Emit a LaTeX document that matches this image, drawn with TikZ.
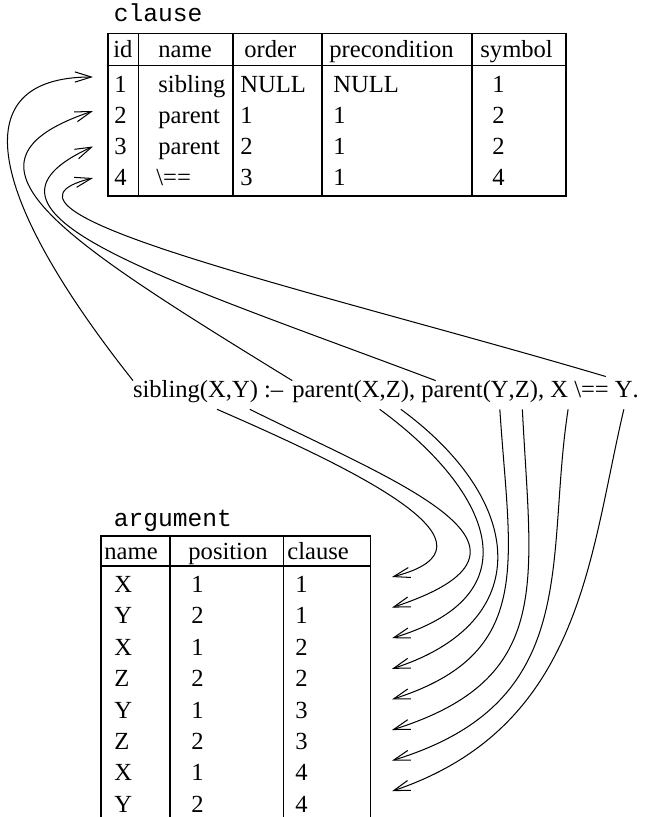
\documentclass[tikz,border=0pt]{standalone}
\usepackage{fontspec}
\setmainfont{Liberation Serif}
\setmonofont{Liberation Mono}
\usetikzlibrary{arrows.meta,positioning}

\begin{document}
\begin{tikzpicture}[x=0.488pt,y=-0.488pt,
  font=\fontsize{12}{14.4}\selectfont,
  tbl/.style={line width=0.6pt},
  cell/.style={anchor=base west,inner sep=0pt},
  lbl/.style={anchor=base west,inner sep=0pt,font=\fontsize{12}{14.4}\selectfont\ttfamily},
  word/.style={inner sep=0pt,outer sep=0pt,text height=0.8em,text depth=0.6em},
  arr/.style={line width=0.5pt,-{Straight Barb[length=8pt,width=5pt]}}]
\useasboundingbox (0,0) rectangle (646,817);
\node[lbl] (tclause) at (113.5,21.7) {clause};
\draw[tbl] (108,33.5) rectangle (566,196);
\draw[tbl] (108,65.5) -- (566,65.5);
\draw[tbl] (138.5,33.5) -- (138.5,196);
\draw[tbl] (233,33.5) -- (233,196);
\draw[tbl] (322,33.5) -- (322,196);
\draw[tbl] (472,33.5) -- (472,196);
\node[cell] (hid) at (113,57.5) {id};
\node[cell] (hname) at (158,57.5) {name};
\node[cell] (hord) at (244,57.5) {order};
\node[cell] (hpre) at (329,57.5) {precondition};
\node[cell] (hsym) at (480,57.5) {symbol};
\node[cell] (id1) at (114,93) {1};
\node[cell] (nm1) at (158,93) {sibling};
\node[cell] (od1) at (240,93) {NULL};
\node[cell] (pc1) at (333,93) {NULL};
\node[cell] (sy1) at (492,93) {1};
\node[cell] (id2) at (114,123.8) {2};
\node[cell] (nm2) at (158,123.8) {parent};
\node[cell] (od2) at (240,123.8) {1};
\node[cell] (pc2) at (333,123.8) {1};
\node[cell] (sy2) at (492,123.8) {2};
\node[cell] (id3) at (114,154.6) {3};
\node[cell] (nm3) at (158,154.6) {parent};
\node[cell] (od3) at (240,154.6) {2};
\node[cell] (pc3) at (333,154.6) {1};
\node[cell] (sy3) at (492,154.6) {2};
\node[cell] (id4) at (114,185.4) {4};
\node[cell] (nm4) at (156,185.4) {\textbackslash==};
\node[cell] (od4) at (240,185.4) {3};
\node[cell] (pc4) at (333,185.4) {1};
\node[cell] (sy4) at (492,185.4) {4};
\coordinate (q1) at (93,77);
\coordinate (q2) at (93,111);
\coordinate (q3) at (93,146.5);
\coordinate (q4) at (93,178);
\node[word,anchor=base west] (sib) at (133,397) {sibling(};
\node[word,base right=0pt of sib] (sx) {X};
\node[word,base right=0pt of sx] (k1) {,};
\node[word,base right=0pt of k1] (sy) {Y};
\node[word,base right=0pt of sy] (neck) {)~:\textendash};
\node[word,base right=4.4pt of neck] (par1) {parent(};
\node[word,base right=0pt of par1] (px1) {X};
\node[word,base right=0pt of px1] (k2) {,};
\node[word,base right=0pt of k2] (pz1) {Z};
\node[word,base right=0pt of pz1] (sep1) {),~\mbox{}};
\node[word,base right=0pt of sep1] (par2) {parent(};
\node[word,base right=0pt of par2] (py2) {Y};
\node[word,base right=0pt of py2] (k3) {,};
\node[word,base right=0pt of k3] (pz2) {Z};
\node[word,base right=0pt of pz2] (sep2) {),~\mbox{}};
\node[word,base right=0pt of sep2] (nx) {X};
\node[word,base right=0pt of nx] (neq) {~\textbackslash==~\mbox{}};
\node[word,base right=0pt of neq] (ny) {Y};
\node[word,base right=0pt of ny] (stop) {.};
\draw[arr] (sib.north west) .. controls (-10,200) and (-40,77) .. (q1);
\draw[arr] (par1.north west) .. controls (57,236) and (-59,162) .. (q2);
\draw[arr] ([xshift=7pt]par2.north west) .. controls (158,276) and (-52.6,212.6) .. (q3);
\draw[arr] ([xshift=-4.5pt,yshift=2pt]neq.north east) .. controls (321,292) and (-42.8,211.6) .. (q4);
\node[lbl] (targ) at (113.5,526.7) {argument};
\draw[tbl] (101,817) -- (101,536) -- (370.7,536) -- (370.7,817);
\draw[tbl] (101,566) -- (370.7,566);
\draw[tbl] (170,536) -- (170,817);
\draw[tbl] (283.3,536) -- (283.3,817);
\node[cell] (hanm) at (104,559.5) {name};
\node[cell] (hapos) at (188,559.5) {position};
\node[cell] (hacl) at (287,559.5) {clause};
\node[cell] (an1) at (114,592.5) {X};
\node[cell] (ap1) at (191,592.5) {1};
\node[cell] (ac1) at (295,592.5) {1};
\node[cell] (an2) at (114,623.9) {Y};
\node[cell] (ap2) at (191,623.9) {2};
\node[cell] (ac2) at (295,623.9) {1};
\node[cell] (an3) at (114,655.3) {X};
\node[cell] (ap3) at (191,655.3) {1};
\node[cell] (ac3) at (295,655.3) {2};
\node[cell] (an4) at (114,686.7) {Z};
\node[cell] (ap4) at (191,686.7) {2};
\node[cell] (ac4) at (295,686.7) {2};
\node[cell] (an5) at (114,718.1) {Y};
\node[cell] (ap5) at (191,718.1) {1};
\node[cell] (ac5) at (295,718.1) {3};
\node[cell] (an6) at (114,749.5) {Z};
\node[cell] (ap6) at (191,749.5) {2};
\node[cell] (ac6) at (295,749.5) {3};
\node[cell] (an7) at (114,780.9) {X};
\node[cell] (ap7) at (191,780.9) {1};
\node[cell] (ac7) at (295,780.9) {4};
\node[cell] (an8) at (114,812.3) {Y};
\node[cell] (ap8) at (191,812.3) {2};
\node[cell] (ac8) at (295,812.3) {4};
\coordinate (t1) at (392,577);
\coordinate (t2) at (392,607.6);
\coordinate (t3) at (392,638.2);
\coordinate (t4) at (392,668.8);
\coordinate (t5) at (392,699.4);
\coordinate (t6) at (392,730);
\coordinate (t7) at (392,760.6);
\coordinate (t8) at (392,791.2);
\draw[arr] (sx.south) .. controls (360.6,471.8) and (513,546) .. (t1);
\draw[arr] (sy.south east) .. controls (401,484.4) and (572.5,548.2) .. (t2);
\draw[arr] (px1.south east) .. controls (491,491) and (536,595) .. (t3);
\draw[arr] (pz1.south east) .. controls (526.5,501.5) and (536,622.5) .. (t4);
\draw[arr] (py2.south) .. controls (509.8,563) and (536,653.5) .. (t5);
\draw[arr] (pz2.south) .. controls (531,583) and (555,678.7) .. (t6);
\draw[arr] (nx.south east) .. controls (544.7,560) and (584,702) .. (t7);
\draw[arr] (ny.south) .. controls (589,557) and (582,727) .. (t8);
\end{tikzpicture}
\end{document}
